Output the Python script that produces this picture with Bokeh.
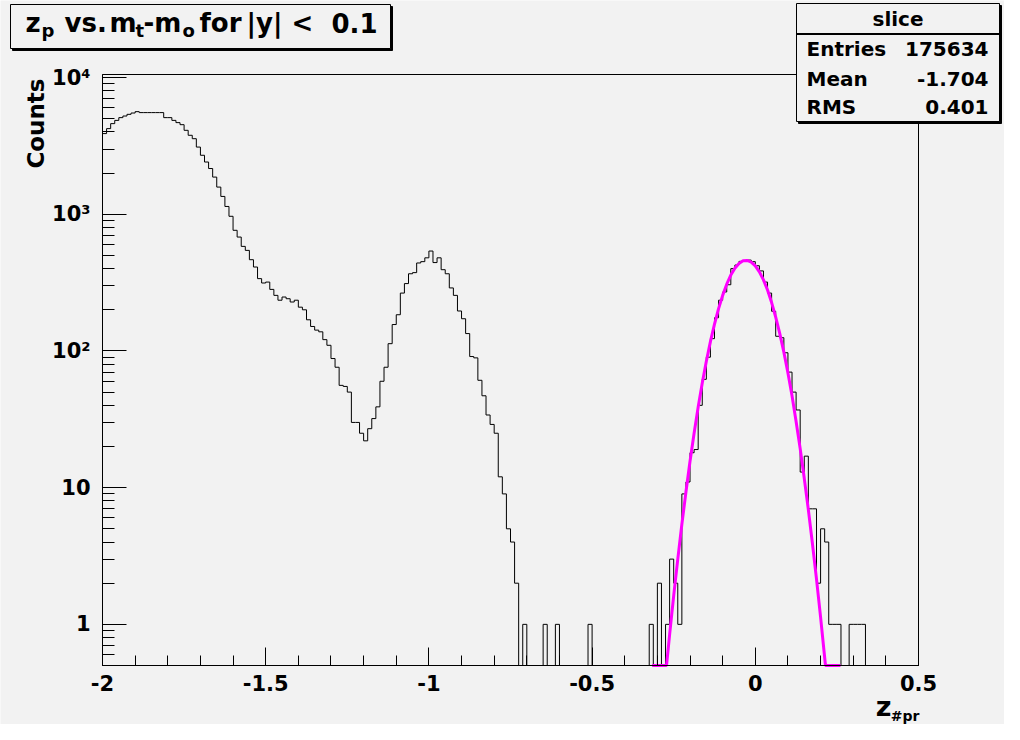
import math
import numpy as np
from bokeh.plotting import figure
from bokeh.models import Range1d, FixedTicker, Label, BoxAnnotation
from bokeh.embed import file_html
from bokeh.resources import INLINE

# ---------------- data ----------------
X_MIN, X_MAX = -2.0, 0.5
Y_MIN, Y_MAX = 0.5, 10525

counts = [
    3890, 4230, 4600, 4860, 5090, 5230, 5380, 5500, 5630, 5540,
    5540, 5540, 5540, 5540, 5540, 5090, 5090, 4860, 4680, 4520,
    4110, 3780, 3570, 3100, 2700, 2410, 2160, 1870, 1580, 1350,
    1140, 966, 763, 681, 582, 544, 465, 411, 338, 314,
    319, 282, 255, 235, 248, 241, 228, 235, 209, 200,
    169, 151, 142, 138, 121, 110, 88, 76, 56, 55,
    50, 30, 30, 25, 22, 27, 32, 39, 60, 76,
    113, 156, 184, 265, 311, 367, 374, 440, 450, 480,
    538, 443, 480, 393, 367, 289, 255, 196, 172, 134,
    91, 89, 61, 47, 34, 29, 25, 12, 9, 5,
    4, 2, 0, 1, 0, 0, 0, 0, 1, 0,
    0, 1, 0, 0, 0, 0, 0, 0, 0, 1,
    0, 0, 0, 0, 0, 0, 0, 0, 0, 0,
    0, 0, 0, 0, 1, 0, 2, 0, 1, 3,
    2, 1, 9, 11, 18, 19, 40, 62, 90, 123,
    175, 235, 270, 305, 400, 425, 452, 458, 462, 450,
    420, 385, 319, 265, 195, 128, 125, 97, 70, 50,
    37, 13, 17, 7, 7, 2, 5, 4, 1, 1,
    1, 0, 0, 1, 1, 1, 1, 0, 0, 0,
    0, 0, 0, 0, 0, 0, 0, 0, 0, 0,
]

fit_x = [-0.316, -0.272, -0.2625, -0.25, -0.2375, -0.225, -0.2125, -0.2, -0.1875,
         -0.175, -0.1625, -0.15, -0.1375, -0.125, -0.1125, -0.1, -0.0875, -0.075,
         -0.0625, -0.05, -0.0375, -0.025, -0.0125, 0.0, 0.0125, 0.025, 0.0375, 0.05,
         0.0625, 0.075, 0.0875, 0.1, 0.1125, 0.125, 0.1375, 0.15, 0.1625, 0.175,
         0.1875, 0.2, 0.215, 0.261]
fit_y = [0.5, 0.5, 0.84, 1.62, 3.0, 5.4, 9.3, 15.6, 25.0,
         38.9, 58.2, 84, 117, 157, 204, 255, 308, 359,
         403, 436, 456, 459, 447, 419, 379, 331, 279, 226,
         177, 134, 98, 69, 47, 30.5, 19.3, 11.7, 6.9, 3.9,
         2.14, 1.13, 0.5, 0.5]

x_ticks = [-2, -1.5, -1, -0.5, 0, 0.5]
x_tick_labels = ["-2", "-1.5", "-1", "-0.5", "0", "0.5"]
x_minor = [round(-2 + 0.1 * i, 1) for i in range(26)]
y_ticks = [1, 10, 100, 1000, 10000]
y_tick_labels = ["1", "10", "10\u00b2", "10\u00b3", "10\u2074"]
y_minor = [m * 10 ** e for e in range(-1, 4) for m in range(2, 10) if Y_MIN < m * 10 ** e < Y_MAX]

title_parts = [("z", ""), ("p", "sub"), ("vs.", ""), ("m", ""), ("t", "sub"), ("-m", ""),
               ("o", "sub"), ("for", ""), ("|y|", ""), ("<", ""), ("0.1", "")]
stats_title = "slice"
stats_names = ["Entries", "Mean", "RMS"]
stats_values = ["175634", "-1.704", "0.401"]
y_title = "Counts"
x_title = ("z", "#pr")

# ---------------- layout ----------------
BG = "#f2f2f2"
FONT = "DejaVu Sans"
CW, CH = 1004, 724                    # canvas
FL, FT, FW, FH = 102, 74, 816, 591   # ROOT frame box in canvas pixels
BASE_FIX = 0.42                       # label baseline correction (em)

# the Bokeh frame covers the whole canvas; axes are pinned with fixed_location
px_x = (X_MAX - X_MIN) / FW
dec_per_px = (math.log10(Y_MAX) - math.log10(Y_MIN)) / FH
xr = Range1d(X_MIN - FL * px_x, X_MAX + (CW - FL - FW) * px_x)
yr = Range1d(10 ** (math.log10(Y_MIN) - (CH - FT - FH) * dec_per_px),
             10 ** (math.log10(Y_MAX) + FT * dec_per_px))

p = figure(width=CW, height=CH, x_range=xr, y_range=yr, y_axis_type="log",
           output_backend="svg", toolbar_location=None, min_border=0)
p.background_fill_color = BG
p.border_fill_color = BG
p.outline_line_color = None
p.xgrid.visible = False
p.ygrid.visible = False

# histogram
edges = np.linspace(X_MIN, X_MAX, len(counts) + 1)
shown = np.clip(np.array(counts, dtype=float), Y_MIN, None)
p.step(edges, np.append(shown, shown[-1]), mode="after", line_color="black", line_width=1)

# fit
p.line(fit_x, fit_y, line_color="#ff00ff", line_width=3)

# frame box of the histogram
p.add_layout(BoxAnnotation(left=X_MIN, right=X_MAX, bottom=Y_MIN, top=Y_MAX,
                           fill_alpha=0.0, line_color="black", line_alpha=1.0, line_width=1))

# axes
xa = p.xaxis[0]
xa.fixed_location = Y_MIN
xa.bounds = (X_MIN, X_MAX)
xa.ticker = FixedTicker(ticks=x_ticks, minor_ticks=x_minor)
xa.major_label_overrides = dict(zip(x_ticks, x_tick_labels))
xa.major_tick_in = 18
xa.major_tick_out = 0
xa.minor_tick_in = 10
xa.minor_tick_out = 0
xa.major_label_text_font = FONT
xa.major_label_text_font_style = "bold"
xa.major_label_text_font_size = "21px"
xa.major_label_text_color = "black"
xa.major_label_standoff = 9
xa.axis_line_color = "black"

ya = p.yaxis[0]
ya.fixed_location = X_MIN
ya.bounds = (Y_MIN, Y_MAX)
ya.ticker = FixedTicker(ticks=y_ticks, minor_ticks=y_minor)
ya.major_label_overrides = dict(zip(y_ticks, y_tick_labels))
ya.major_tick_in = 24
ya.major_tick_out = 0
ya.minor_tick_in = 12
ya.minor_tick_out = 0
ya.major_label_text_font = FONT
ya.major_label_text_font_style = "bold"
ya.major_label_text_font_size = "21px"
ya.major_label_text_color = "black"
ya.major_label_standoff = 12
ya.axis_line_color = "black"


def label(X, Y, s, size, align="left", rotated=False):
    fix = BASE_FIX * size
    if rotated:
        X, Y, angle = X - fix, Y, math.pi / 2
    else:
        X, Y, angle = X, Y - fix, 0.0
    p.add_layout(Label(x=X, y=Y, x_units="canvas", y_units="canvas", text=s,
                       text_font=FONT, text_font_style="bold",
                       text_font_size=f"{size}px", text_align=align,
                       text_baseline="alphabetic", angle=angle, text_color="black"))


def box(X0, Y0, X1, Y1, fill, line=None):
    p.add_layout(BoxAnnotation(left=X0, right=X1, top=Y0, bottom=Y1,
                               left_units="canvas", right_units="canvas",
                               top_units="canvas", bottom_units="canvas",
                               fill_color=fill, fill_alpha=1.0,
                               line_color=line if line else fill, line_alpha=1.0,
                               line_width=1))


# axis titles
label(45, 78, y_title, 23, align="right", rotated=True)
label(891, 717, x_title[0], 27, align="right")
label(919, 721, x_title[1], 14, align="right")

# title box
box(12, 6, 392, 50, "black")
box(10, 4, 390, 48, BG, "black")
title_x = [25, 41, 64, 109, 135, 143, 182, 199, 246, 291, 331]
for (s, kind), tx in zip(title_parts, title_x):
    if kind == "sub":
        label(tx, 38, s, 18)
    else:
        label(tx, 33, s, 26)

# stats box
box(798, 5, 1001, 123, "black")
box(796, 3, 999, 121, BG, "black")
box(796, 33, 999, 34, "black")
label(897.5, 27, stats_title, 20, align="center")
for i, (nm, vv) in enumerate(zip(stats_names, stats_values)):
    yb = [57, 87, 115][i]
    label(806, yb, nm, 20)
    label(988, yb, vv, 20, align="right")

open("out.html", "w").write(file_html(p, INLINE))
